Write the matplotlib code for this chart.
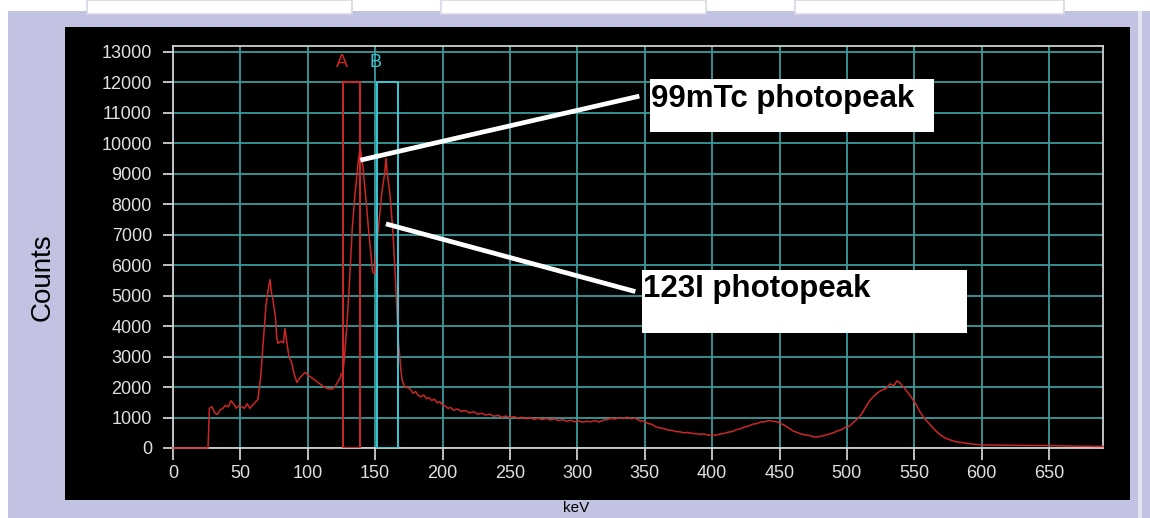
import numpy as np
import matplotlib
matplotlib.use('Agg')
import matplotlib.pyplot as plt
from matplotlib.patches import Rectangle

# >>>>>>>>>>>>> spectrum <<<<<<<<<<<<< #

energy_keV = [0, 25, 26, 27, 29, 31, 33, 35, 37, 39, 41, 43, 45, 47, 49, 51, 53, 55, 57, 59,
              61, 63, 65, 67, 69, 71, 72, 73, 74, 76, 77, 78, 80, 82, 83, 84, 86, 88, 90, 92,
              94, 96, 98, 100, 103, 106, 109, 112, 115, 118, 120, 122, 124, 125, 126, 127, 129, 131, 133, 135,
              137, 138, 139, 140, 141, 142, 143.5, 145, 147, 148, 149.5, 151, 153, 155, 157, 158, 159, 161, 163, 165,
              167, 169, 170, 172, 175.5, 178, 180, 182, 184, 186, 188, 190, 192, 194, 196, 198, 200, 202, 204, 206,
              208, 211, 214, 217, 220, 223, 226, 229, 232, 235, 238, 241, 244, 247, 250, 253, 256, 259, 262, 265,
              268, 271, 274, 277, 280, 283, 286, 289, 292, 295, 298, 301, 304, 307, 310, 313, 316, 319, 322, 325,
              328, 331, 334, 337, 340, 343, 346, 349, 352, 355, 358, 361, 364, 367, 370, 373, 376, 379, 382, 385,
              388, 391, 394, 397, 400, 403, 406, 409, 412, 415, 418, 421, 424, 427, 430, 433, 436, 439, 442, 445,
              448, 451, 454, 457, 460, 463, 466, 469, 472, 475, 478, 481, 484, 487, 490, 493, 496, 499, 502, 505,
              508, 511, 514, 517, 520, 523, 526, 529, 532, 535, 537, 539, 541, 543, 545, 548, 551, 554, 557, 560,
              563, 566, 569, 572, 575, 579, 583, 587, 591, 595, 600, 620, 650, 670, 690]
counts = [0, 0, 0, 1300, 1350, 1150, 1100, 1250, 1300, 1400, 1350, 1550, 1450, 1300, 1400, 1350, 1300, 1450, 1300, 1400,
          1500, 1600, 2300, 3500, 4700, 5300, 5520, 5100, 4900, 4300, 3600, 3430, 3500, 3450, 3920, 3600, 3000, 2800, 2400, 2150,
          2300, 2390, 2480, 2400, 2300, 2200, 2100, 2000, 1950, 1930, 2000, 2150, 2300, 2450, 2400, 2880, 4000, 5500, 7200, 8300,
          9200, 9600, 9840, 9500, 9200, 8700, 8000, 7200, 6300, 5800, 5700, 6500, 7500, 8400, 9000, 9500, 9000, 8300, 7200, 5600,
          3630, 2600, 2220, 2000, 1960, 1800, 1850, 1720, 1680, 1740, 1620, 1650, 1560, 1600, 1480, 1520, 1400, 1380, 1300, 1330,
          1240, 1280, 1200, 1230, 1150, 1190, 1110, 1140, 1080, 1110, 1040, 1070, 1010, 1050, 990, 1030, 970, 1010, 960, 1000,
          940, 980, 930, 970, 920, 950, 900, 930, 880, 910, 860, 890, 850, 880, 860, 900, 850, 910, 930, 970,
          950, 1000, 970, 1010, 960, 980, 900, 880, 810, 780, 700, 660, 640, 590, 580, 540, 530, 500, 510, 480,
          470, 450, 460, 420, 430, 420, 460, 480, 520, 540, 600, 630, 690, 720, 780, 800, 850, 860, 900, 880,
          860, 800, 740, 650, 560, 510, 460, 430, 410, 370, 360, 390, 420, 460, 500, 560, 600, 680, 720, 850,
          960, 1120, 1350, 1560, 1700, 1820, 1900, 1950, 2100, 2050, 2200, 2150, 2050, 1950, 1830, 1650, 1450, 1200, 1000, 850,
          700, 560, 440, 350, 290, 230, 190, 170, 140, 120, 100, 90, 80, 60, 50]

# energy windows A and B (keV)
win_labels = ['A', 'B']
win_lo = [126, 151]
win_hi = [139, 167]
win_height = 12000

peak_labels = ['99mTc photopeak', '123I photopeak']

xticks = np.arange(0, 651, 50)
yticks = np.arange(0, 13001, 1000)

# >>>>>>>>>>>>> colours <<<<<<<<<<<<< #
bg_lav = '#c2c2e2'
grid_col = '#3a9a9a'
spec_col = '#cc2626'
win_cols = ['#d02828', '#38c8d8']
tick_col = '#e0e0e0'

fig = plt.figure(figsize=(11.5, 5.18), dpi=100, facecolor=bg_lav)

# window frame bits around the plot
fig.patches.append(Rectangle((0, 1 - 11/518), 1, 11/518, transform=fig.transFigure, facecolor='white', edgecolor='none', zorder=0))
fig.patches.append(Rectangle((0, 0), 8/1150, 1, transform=fig.transFigure, facecolor='white', edgecolor='none', zorder=0))
for x0, x1 in [(87, 352), (441, 706), (795, 1064)]:
    fig.patches.append(Rectangle((x0/1150, 1 - 14/518), (x1 - x0)/1150, 14/518, transform=fig.transFigure,
                                 facecolor='white', edgecolor='#d8d8e8', linewidth=1.2, zorder=0))
fig.patches.append(Rectangle((1138/1150, 0), 4/1150, 1 - 11/518, transform=fig.transFigure, facecolor='#e4e4f2', edgecolor='none', zorder=0))
fig.patches.append(Rectangle((65/1150, 1 - 500/518), (1130 - 65)/1150, (500 - 27)/518, transform=fig.transFigure,
                             facecolor='black', edgecolor='none', zorder=0))

ax = fig.add_axes([173/1150, 1 - 448/518, (1103 - 173)/1150, (448 - 45.5)/518])
ax.set_zorder(2)
ax.set_facecolor('black')

ax.plot(energy_keV, counts, color=spec_col, linewidth=1.1, zorder=4, clip_on=False)

for lab, lo, hi, c in zip(win_labels, win_lo, win_hi, win_cols):
    ax.add_patch(Rectangle((lo, 0), hi - lo, win_height, facecolor='none', edgecolor=c, linewidth=1.4, zorder=5))
    ax.text(lo - 1, 12650, lab, color=c, fontsize=13, family='Liberation Sans', ha='center', va='center', zorder=5)

ax.set_xlim(0, 690)
ax.set_ylim(0, 13200)
ax.set_xticks(xticks)
ax.set_yticks(yticks)
ax.grid(True, color=grid_col, linewidth=1.3)
ax.set_axisbelow(True)

for s in ax.spines.values():
    s.set_color('#d0d0d0')
    s.set_linewidth(1.3)

ax.tick_params(axis='y', colors=tick_col, length=7.2, width=1.2, pad=8, labelsize=13)
ax.tick_params(axis='x', colors=tick_col, length=8.6, width=1.2, pad=4, labelsize=13)
for t in ax.get_xticklabels() + ax.get_yticklabels():
    t.set_family('Liberation Sans')

# annotation pointers and boxes
ax.plot([139, 346], [9440, 11540], color='white', linewidth=3.4, solid_capstyle='butt', clip_on=False, zorder=6)
ax.plot([158, 343], [7350, 5130], color='white', linewidth=3.4, solid_capstyle='butt', clip_on=False, zorder=6)

ax.add_patch(Rectangle((353.7, 10360), 564.8 - 353.7, 12090 - 10360, facecolor='white', edgecolor='none', zorder=7))
ax.add_patch(Rectangle((347.8, 3760), 589 - 347.8, 5850 - 3760, facecolor='white', edgecolor='none', zorder=7))
ax.text(354.4, 11180, peak_labels[0], fontsize=22.5, fontweight='bold', family='Liberation Sans',
        color='black', va='baseline', ha='left', zorder=8)
ax.text(348.5, 4950, peak_labels[1], fontsize=22.5, fontweight='bold', family='Liberation Sans',
        color='black', va='baseline', ha='left', zorder=8)

fig.text(43/1150, 1 - 277/518, 'Counts', rotation=90, fontsize=20, family='Liberation Sans',
         color='black', ha='center', va='center')
fig.text(576/1150, 1 - 508/518, 'keV', fontsize=11, family='Liberation Sans', color='black', ha='center', va='center')

fig.savefig('out.png', dpi=100, facecolor=bg_lav)
